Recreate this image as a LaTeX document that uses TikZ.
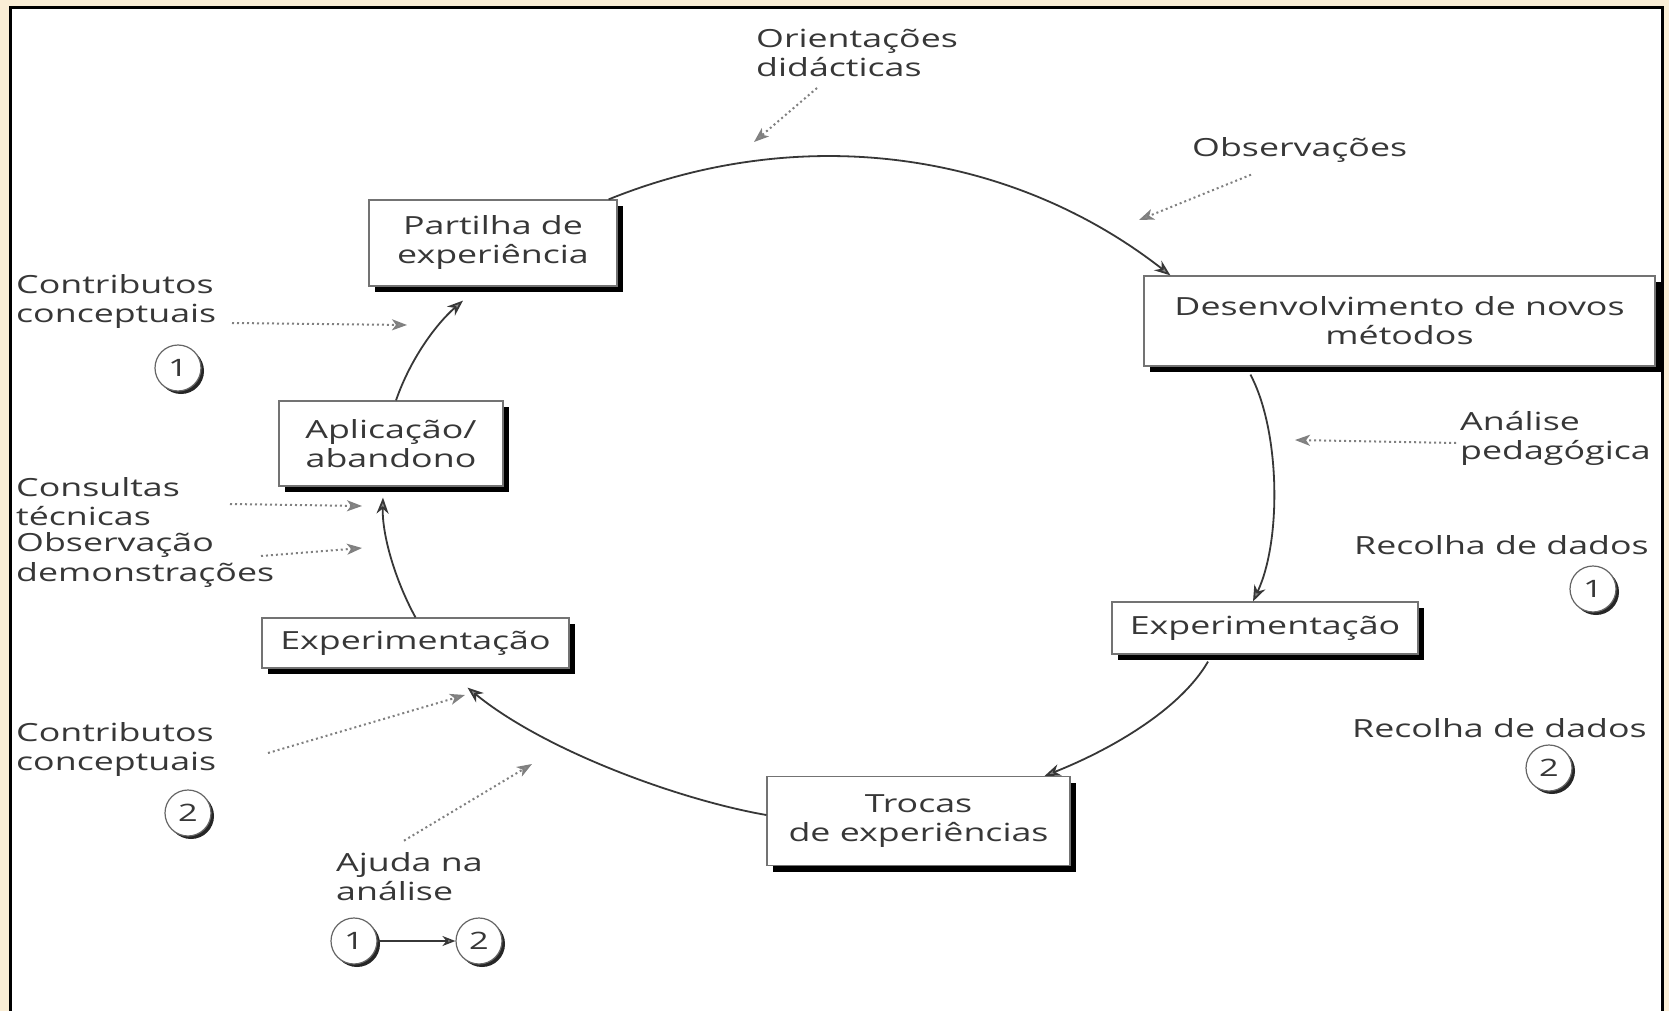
\documentclass[tikz,border=0pt]{standalone}
\usepackage{fontspec}
\setmainfont[FakeStretch=1.43]{Open Sans}
\usetikzlibrary{arrows.meta,shadows}
\definecolor{beige}{RGB}{250,238,214}
\definecolor{ink}{RGB}{55,55,55}
\begin{document}
\begin{tikzpicture}[x=1pt,y=-1pt,
  every node/.style={font=\fontsize{25}{29}\selectfont, text=ink},
  stage/.style={draw=black!55, line width=1.2pt, fill=white, align=center, inner sep=0pt,
     general shadow={fill=black, shadow xshift=6pt, shadow yshift=-6pt}},
  lbl/.style={anchor=west, align=left, inner sep=0pt},
  num/.style={circle, draw=black!60, line width=1.2pt, fill=white, minimum size=46pt, inner sep=0pt,
     font=\fontsize{24}{24}\selectfont,
     general shadow={fill=black!85, shadow xshift=3pt, shadow yshift=-3pt}},
  flow/.style={draw=ink, line width=1.8pt, -{Stealth[length=16pt,width=12pt,inset=5pt,fill=black!45]}},
  hint/.style={draw=black!50, line width=2pt, dash pattern=on 2pt off 3pt,
     -{Stealth[length=15pt,width=11pt,inset=4pt,fill=black!45]}}
]
\useasboundingbox (0,0) rectangle (1669,1011);
\fill[beige] (0,0) rectangle (1669,1011);
\fill[white] (10,8) rectangle (1662,1030);
\begin{scope}
\clip (11,9) rectangle (1661,1011);
% stage boxes
\node[stage, minimum width=248pt, minimum height=86pt] (part) at (493,243) {Partilha de\\experiência};
\node[stage, minimum width=511pt, minimum height=90pt] (desv) at (1399.5,321) {Desenvolvimento de novos\\métodos};
\node[stage, minimum width=224pt, minimum height=85pt] (apl) at (391,443.5) {Aplicação/\\abandono};
\node[stage, minimum width=307pt, minimum height=50pt] (expL) at (415.5,643) {Experimentação};
\node[stage, minimum width=306pt, minimum height=52pt] (expR) at (1265,628) {Experimentação};
\node[stage, minimum width=303pt, minimum height=89pt] (troc) at (918.5,821) {Trocas\\de experiências};
% labels
\node[lbl] (ori) at (756,53) {Orientações\\didácticas};
\node[lbl] (obs) at (1192,150) {Observações};
\node[lbl] (c1) at (16,302) {Contributos\\conceptuais};
\node[lbl] (cons) at (16,502) {Consultas\\técnicas};
\node[lbl] (obs2) at (16,560) {Observação\\demonstrações};
\node[lbl] (c2) at (16,749) {Contributos\\conceptuais};
\node[lbl] (ajuda) at (336,877) {Ajuda na\\análise};
\node[lbl] (ana) at (1460,438) {Análise\\pedagógica};
\node[lbl] (rec1) at (1354,545) {Recolha de dados};
\node[lbl] (rec2) at (1352,728) {Recolha de dados};
% numbered circles
\node[num] (n1a) at (178,368) {1};
\node[num] (n2a) at (188,813) {2};
\node[num] (n1b) at (354,941) {1};
\node[num] (n2b) at (479,941) {2};
\node[num] (n1c) at (1593,589) {1};
\node[num] (n2c) at (1549,768) {2};
% cycle
\draw[flow] ([xshift=-9pt]part.north east) .. controls (800,122) and (1010,150) .. ([xshift=27pt]desv.north west);
\draw[flow] ([xshift=107pt,yshift=-8pt]desv.south west) .. controls (1280,430) and (1282,540) .. ([xshift=-12pt]expR.north);
\draw[flow] ([xshift=-57pt,yshift=-7pt]expR.south) .. controls (1180,710) and (1110,750) .. ([xshift=-26pt]troc.north east);
\draw[flow] ([yshift=6pt]troc.west) .. controls (680,800) and (545,751) .. ([xshift=52pt,yshift=-19pt]expL.south);
\draw[flow] (expL.north) .. controls (395,580) and (382,535) .. ([xshift=-8pt,yshift=-11pt]apl.south);
\draw[flow] ([xshift=5pt]apl.north) .. controls (410,360) and (435,325) .. ([xshift=-30pt,yshift=-14pt]part.south);
% free ends of dotted arrows
\coordinate (ta) at (754,142);
\coordinate (tb) at (1139,220);
\coordinate (tc) at (407,325);
\coordinate (td) at (1295,440);
\coordinate (te) at (362,506);
\coordinate (tf) at (362,548);
\coordinate (tg) at (465,695);
\coordinate (th) at (532,764);
\draw[hint] ([xshift=61pt,yshift=-11pt]ori.south west) -- (ta);
\draw[hint] ([xshift=59pt,yshift=-12pt]obs.south west) -- (tb);
\draw[hint] ([xshift=216pt,yshift=-21pt]c1.west) -- (tc);
\draw[hint] ([xshift=-4pt,yshift=-5pt]ana.west) -- (td);
\draw[hint] ([xshift=214pt,yshift=-2pt]cons.west) -- (te);
\draw[hint] ([xshift=245pt,yshift=4pt]obs2.west) -- (tf);
\draw[hint] ([xshift=252pt,yshift=-4pt]c2.west) -- (tg);
\draw[hint] ([xshift=68pt,yshift=12pt]ajuda.north west) -- (th);
\draw[draw=ink, line width=1.6pt, -{Stealth[length=13pt,width=10pt,inset=4pt,fill=black!45]}] (n1b) -- (n2b);
\end{scope}
\draw[black, line width=3pt] (10,8) rectangle (1662,1030);
\end{tikzpicture}
\end{document}
